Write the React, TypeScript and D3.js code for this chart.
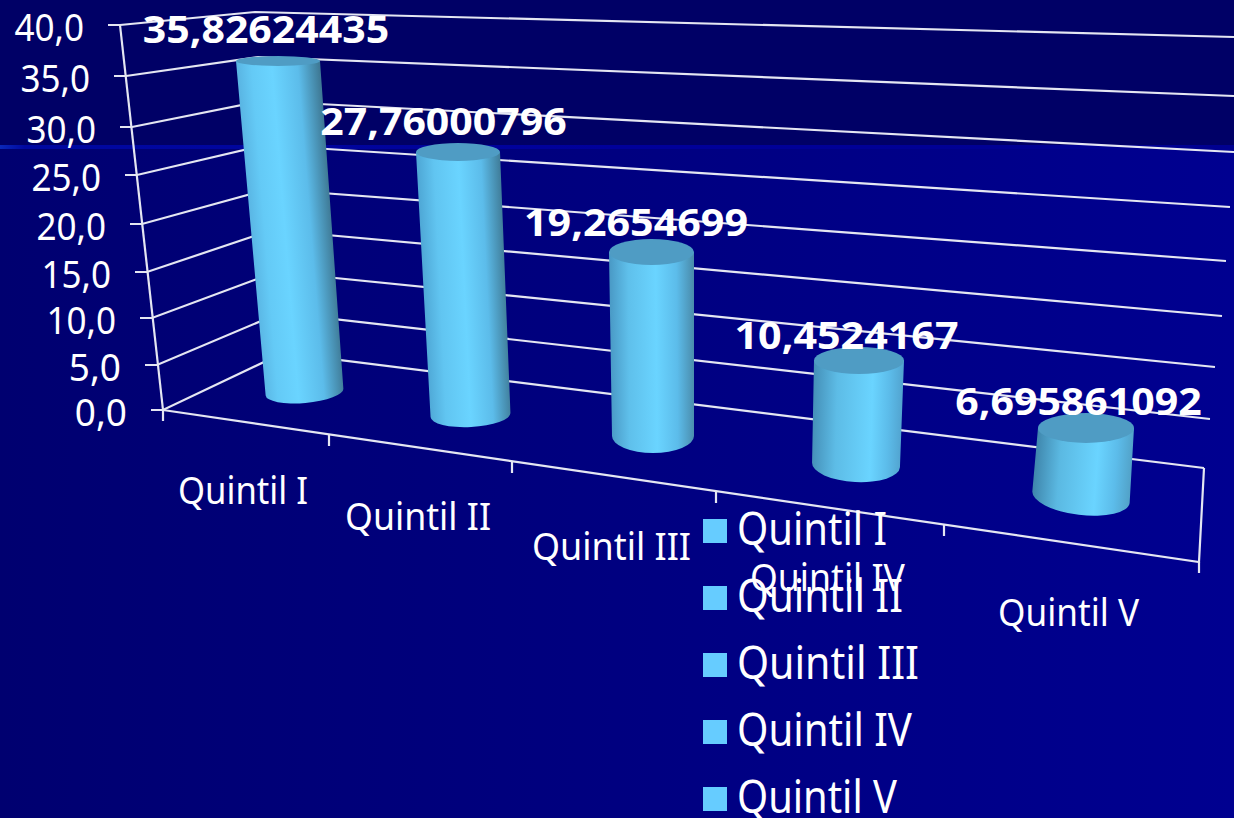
import React from "react";
import * as d3 from "d3";

const categories = ["Quintil I", "Quintil II", "Quintil III", "Quintil IV", "Quintil V"];
const values = [35.82624435, 27.76000796, 19.2654699, 10.4524167, 6.695861092];
const valueLabels = ["35,82624435", "27,76000796", "19,2654699", "10,4524167", "6,695861092"];
const tickValues = [0, 5, 10, 15, 20, 25, 30, 35, 40];
const tickLabels = ["0,0", "5,0", "10,0", "15,0", "20,0", "25,0", "30,0", "35,0", "40,0"];

// Perspective calibration of the 3D box, by value
const frontX = [163, 157, 152, 147, 142, 137, 132, 126, 120];
const frontY = [410, 365, 318, 272, 224, 175, 127, 76, 25];
const cornerX = [283, 280, 276, 272, 269, 265, 262, 258, 255];
const cornerY = [353, 313, 272, 230, 189, 145, 101, 57, 12];
const rightX = [1204, 1210, 1215, 1222, 1226, 1230, 1234, 1234, 1234];
const rightY = [468, 419, 367, 316, 261, 207, 152, 96, 37];

// Cylinder calibration, by category
const baseX = [304.5, 470.5, 653, 856, 1081];
const baseY = [392, 415, 436, 465, 497];
const baseHalf = [39, 40, 41, 44, 49];
const baseRy = [11, 12, 17, 17, 18];
const baseTilt = [-5, -3, 0, 3, 7];
const topX = [278, 458, 651.5, 859, 1086];
const topY = [61, 152, 252, 360.5, 428];
const topHalf = [42, 42, 42.5, 45, 48];
const topRy = [5, 9, 13, 13.5, 15];
const leftShade = ["#5ab6e4", "#4fa8d6", "#4a9ac6", "#4590b8", "#3f86ac"];
const rightShade = ["#3f7a96", "#417f9c", "#4a8cac", "#52a4d0", "#52a2c8"];
const peak = [0.42, 0.5, 0.55, 0.66, 0.64];
const labelDx = [-12, -14.5, -15.5, -12.5, -7.5];
const labelDy = [-18, -17, -16, -12, -13];

const categoryLabelX = [178, 345, 532, 750, 998];
const categoryLabelY = [504, 530, 560, 591, 626];
const categoryLabelW = [130, 146, 159, 155, 141];
const legendW = [150, 166, 182, 175, 160];
const catTicks = [[329, 435], [512, 462], [716, 492], [944, 525]];

const FONT = "'Noto Sans', Tahoma, sans-serif";
const LINE = "#e4e6f2";

const sx = (r: number[]) => d3.scaleLinear().domain(tickValues).range(r);
const fx = sx(frontX), fy = sx(frontY), cx = sx(cornerX), cy = sx(cornerY), rx = sx(rightX), ry = sx(rightY);
const idx = categories.map((_, i) => i);
const legendY = d3.scalePoint<number>().domain(idx).range([519, 787]);

function Cylinder({ i }: { i: number }) {
  const yOf = d3.scaleLinear().domain([0, values[i]]).range([baseY[i], topY[i]]);
  const xOf = d3.scaleLinear().domain([0, values[i]]).range([baseX[i], topX[i]]);
  const x0 = xOf(0), y0 = yOf(0), x1 = xOf(values[i]), y1 = yOf(values[i]);
  const t = (baseTilt[i] * Math.PI) / 180;
  const bl = [x0 - baseHalf[i] * Math.cos(t), y0 - baseHalf[i] * Math.sin(t)];
  const br = [x0 + baseHalf[i] * Math.cos(t), y0 + baseHalf[i] * Math.sin(t)];
  const dx = x0 - x1, dy = y0 - y1, len = Math.hypot(dx, dy);
  const nx = dy / len, ny = -dx / len;
  const mx = (x0 + x1) / 2, my = (y0 + y1) / 2, h = (baseHalf[i] + topHalf[i]) / 2;
  const id = `cyl${i}`;
  const body =
    `M${x1 - topHalf[i]},${y1} L${bl[0]},${bl[1]} ` +
    `A${baseHalf[i]},${baseRy[i]} ${baseTilt[i]} 0 0 ${br[0]},${br[1]} ` +
    `L${x1 + topHalf[i]},${y1} Z`;
  const bright = "#6ad4ff";
  return (
    <g>
      <defs>
        <linearGradient id={id} gradientUnits="userSpaceOnUse" x1={mx - nx * h} y1={my - ny * h} x2={mx + nx * h} y2={my + ny * h}>
          <stop offset="0" stopColor={leftShade[i]} />
          <stop offset={peak[i] * 0.4} stopColor={d3.interpolateRgb(leftShade[i], bright)(0.65)} />
          <stop offset={peak[i]} stopColor={bright} />
          <stop offset={peak[i] + (1 - peak[i]) * 0.55} stopColor="#5cbcea" />
          <stop offset="1" stopColor={rightShade[i]} />
        </linearGradient>
      </defs>
      <path d={body} fill={`url(#${id})`} />
      <ellipse cx={x1} cy={y1} rx={topHalf[i]} ry={topRy[i]} fill="#4f9cc4" />
    </g>
  );
}

export default function App() {
  return (
    <svg width={1234} height={818} style={{ position: "fixed", left: 0, top: 0, display: "block" }} fontFamily={FONT}>
      <defs>
        <linearGradient id="lower" x1="0" x2="1" y1="0" y2="0">
          <stop offset="0" stopColor="#000070" />
          <stop offset="1" stopColor="#000090" />
        </linearGradient>
        <linearGradient id="band" x1="0" x2="1" y1="0" y2="0">
          <stop offset="0" stopColor="#0a28b8" />
          <stop offset="0.02" stopColor="#0008a0" />
          <stop offset="0.5" stopColor="#00009a" />
          <stop offset="1" stopColor="#000090" />
        </linearGradient>
      </defs>
      <rect width={1234} height={146} fill="#000066" />
      <rect y={146} width={1234} height={672} fill="url(#lower)" />
      <rect y={145} width={1234} height={4} fill="url(#band)" />

      <g stroke={LINE} strokeWidth={2.2} fill="none">
        {tickValues.map((v) => (
          <polyline key={v} points={`${fx(v) - 12},${fy(v)} ${fx(v)},${fy(v)} ${cx(v)},${cy(v)} ${rx(v)},${ry(v)}`} />
        ))}
        <line x1={fx(40)} y1={fy(40)} x2={fx(0)} y2={fy(0)} />
        <line x1={fx(0)} y1={fy(0)} x2={fx(0)} y2={fy(0) + 11} />
        <polyline points={`${fx(0)},${fy(0)} 1199,562 ${rx(0)},${ry(0)}`} />
        <line x1={1199} y1={562} x2={1199} y2={573} />
        {catTicks.map(([x, y]) => (
          <line key={x} x1={x} y1={y} x2={x} y2={y + 11} />
        ))}
      </g>

      <g fill="#fff" fontSize={38} textAnchor="end">
        {tickValues.map((v, i) => (
          <text key={v} x={fx(v) - 36} y={fy(v) + 16} textLength={17.4 * tickLabels[i].length} lengthAdjust="spacingAndGlyphs">{tickLabels[i]}</text>
        ))}
      </g>

      {idx.map((i) => <Cylinder key={i} i={i} />)}

      <g fill="#fff" fontSize={39}>
        {categories.map((c, i) => (
          <text key={c} x={categoryLabelX[i]} y={categoryLabelY[i]} textLength={categoryLabelW[i]} lengthAdjust="spacingAndGlyphs">{c}</text>
        ))}
      </g>

      <g fill="#fff" fontSize={38} fontWeight={700} textAnchor="middle">
        {valueLabels.map((l, i) => (
          <text key={l} x={topX[i] + labelDx[i]} y={topY[i] + labelDy[i]} textLength={22.4 * l.length} lengthAdjust="spacingAndGlyphs">{l}</text>
        ))}
      </g>

      <g fill="#fff" fontSize={45}>
        {categories.map((c, i) => (
          <g key={c}>
            <rect x={703} y={legendY(i)} width={24} height={24} fill="#66ccff" />
            <text x={737} y={legendY(i)! + 26} textLength={legendW[i]} lengthAdjust="spacingAndGlyphs">{c}</text>
          </g>
        ))}
      </g>
    </svg>
  );
}
